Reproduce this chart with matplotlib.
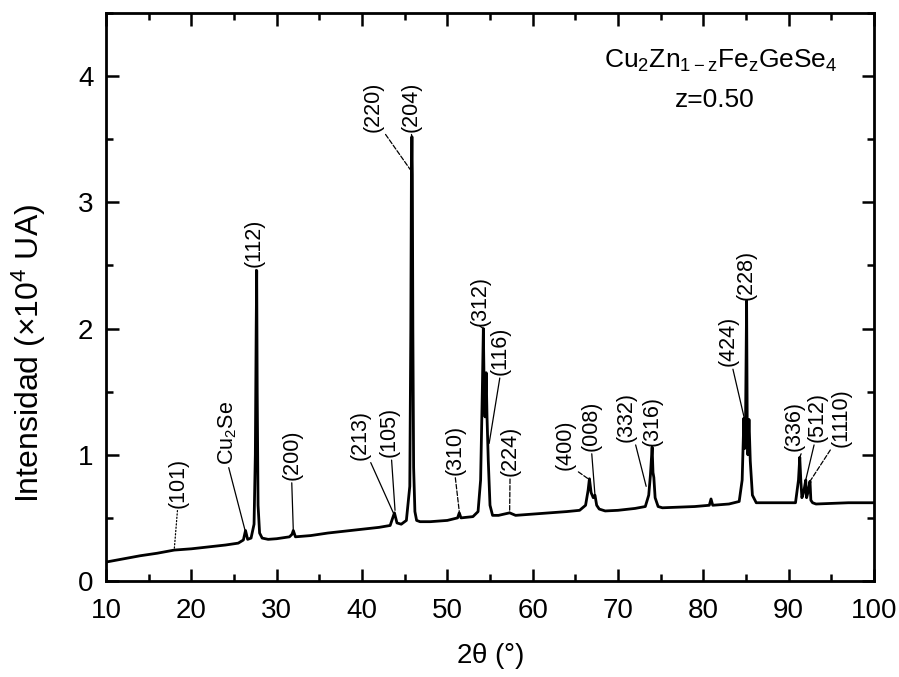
import matplotlib
matplotlib.use('Agg')
import matplotlib.pyplot as plt
from matplotlib.ticker import MultipleLocator

# Difractograma Cu2Zn(1-z)FezGeSe4, z=0.50 (intensidad en unidades de 10^4)
two_theta = [10.0, 12.0, 14.0, 16.0, 18.0, 20.0, 22.0, 24.0, 25.5, 26.1, 26.35, 26.6,
             27.0, 27.35, 27.5, 27.6, 27.66, 27.72, 27.82, 28.0, 28.3, 29.0, 30.0, 31.5,
             31.8, 31.95, 32.2, 34.0, 36.0, 38.0, 40.0, 42.0, 43.3, 43.6, 43.8, 44.1,
             44.6, 45.2, 45.6, 45.72, 45.79, 45.85, 45.9, 45.96, 46.05, 46.2, 46.4, 46.8,
             48.0, 50.0, 51.2, 51.4, 51.6, 53.0, 53.6, 53.9, 54.1, 54.22, 54.32, 54.42,
             54.55, 54.65, 54.8, 55.0, 55.3, 56.0, 57.3, 58.0, 60.0, 62.0, 64.0, 65.5,
             66.2, 66.5, 66.65, 66.85, 67.1, 67.3, 67.5, 67.8, 68.5, 70.0, 72.0, 73.2,
             73.6, 73.8, 74.0, 74.1, 74.2, 74.35, 74.7, 75.2, 77.0, 79.0, 80.7, 80.9,
             81.1, 83.0, 84.2, 84.55, 84.75, 84.85, 84.95, 85.07, 85.14, 85.22, 85.35, 85.5,
             85.75, 86.2, 87.0, 89.0, 90.8, 91.15, 91.3, 91.42, 91.55, 91.75, 92.0, 92.1,
             92.25, 92.5, 92.6, 92.8, 93.2, 95.0, 97.0, 100.0]
intensity = [0.15, 0.175, 0.20, 0.22, 0.245, 0.255, 0.27, 0.285, 0.30, 0.325, 0.40, 0.33,
             0.34, 0.45, 1.0, 2.0, 2.46, 1.5, 0.6, 0.38, 0.34, 0.33, 0.335, 0.35,
             0.37, 0.40, 0.35, 0.36, 0.38, 0.395, 0.41, 0.425, 0.44, 0.50, 0.54, 0.46,
             0.45, 0.48, 0.75, 2.0, 3.22, 3.52, 3.22, 2.0, 0.9, 0.55, 0.48, 0.47,
             0.47, 0.48, 0.50, 0.54, 0.50, 0.51, 0.55, 0.8, 1.5, 2.0, 1.5, 1.3,
             1.65, 1.3, 0.95, 0.6, 0.52, 0.52, 0.54, 0.52, 0.53, 0.54, 0.55, 0.56,
             0.60, 0.72, 0.81, 0.70, 0.66, 0.68, 0.60, 0.57, 0.555, 0.56, 0.575, 0.59,
             0.68, 0.84, 1.06, 0.86, 0.82, 0.66, 0.59, 0.58, 0.585, 0.59, 0.60, 0.65,
             0.60, 0.61, 0.63, 0.80, 1.29, 1.05, 1.29, 2.22, 1.28, 1.0, 1.28, 0.95,
             0.68, 0.62, 0.62, 0.62, 0.62, 0.80, 0.98, 0.80, 0.66, 0.70, 0.80, 0.66,
             0.70, 0.79, 0.64, 0.62, 0.61, 0.615, 0.62, 0.62]

# Indexación de picos: etiqueta, punto del pico, posición de la etiqueta
hkl_labels = ['(101)', 'Cu$_2$Se', '(112)', '(200)', '(213)', '(105)', '(220)', '(204)',
              '(310)', '(312)', '(116)', '(224)', '(400)', '(008)', '(332)', '(316)',
              '(424)', '(228)', '(336)', '(512)', '(1110)']
peak_x = [18.0, 26.3, 27.66, 31.95, 43.67, 43.87, 45.65, 45.85, 51.4, 54.22, 54.9, 57.3,
          66.5, 67.3, 73.3, 74.0, 84.8, 85.07, 91.3, 92.0, 92.5]
peak_y = [0.25, 0.40, 2.46, 0.40, 0.54, 0.56, 3.26, 3.22, 0.55, 2.0, 1.09, 0.54,
          0.81, 0.68, 0.75, 1.06, 1.29, 2.22, 0.98, 0.80, 0.79]

label_x = [18.4, 24.3, 27.35, 31.76, 39.77, 43.2, 41.3, 45.8, 50.9, 53.8, 56.2, 57.35,
           63.8, 66.9, 71.0, 73.95, 82.9, 85.06, 90.6, 93.3, 96.2]
label_y = [0.58, 0.92, 2.49, 0.80, 0.96, 0.98, 3.56, 3.56, 0.84, 2.02, 1.63, 0.83,
           0.88, 1.03, 1.10, 1.07, 1.70, 2.23, 1.03, 1.10, 1.06]
leader_rel = [0.5, 0.5, 0.5, 0.5, 0.95, 0.6, 1.0, 0.5, 0.5, 0.5, 0.5, 0.5,
              1.0, 0.5, 0.9, 0.5, 0.7, 0.5, 0.9, 0.4, 0.05]
leader_ls = [':', '-', '-', '-', '-', '-', '--', '-', '--', '-', '-', '--',
             '--', '-', '-', '-', '-', '-', '-', '-', '--']

plt.rcParams['font.family'] = ['Liberation Sans', 'DejaVu Sans']
plt.rcParams['mathtext.fontset'] = 'custom'
plt.rcParams['mathtext.rm'] = 'Liberation Sans'
plt.rcParams['mathtext.it'] = 'Liberation Sans'
plt.rcParams['mathtext.default'] = 'regular'
narrow = ['Liberation Sans Narrow', 'Liberation Sans']

fig = plt.figure(figsize=(8.99, 6.77), dpi=100)
ax = fig.add_axes([0.1179, 0.1418, 0.8543, 0.839])

ax.plot(two_theta, intensity, color='black', lw=2)

for i in range(len(hkl_labels)):
    ax.annotate(hkl_labels[i], xy=(peak_x[i], peak_y[i]), xytext=(label_x[i], label_y[i]),
                rotation=90, ha='center', va='bottom', fontsize=15.5,
                arrowprops=dict(arrowstyle='-', color='black', lw=0.9, ls=leader_ls[i],
                                shrinkA=0, shrinkB=0, relpos=(leader_rel[i], 0.0)))

ax.text(0.801, 0.903, 'Cu$_2$Zn$_{1-z}$Fe$_z$GeSe$_4$', transform=ax.transAxes,
        ha='center', va='baseline', fontsize=19)
ax.text(0.793, 0.835, 'z=0.50', transform=ax.transAxes,
        ha='center', va='baseline', fontsize=19)

ax.set_xlim(10, 100)
ax.set_ylim(0, 4.5)
ax.xaxis.set_major_locator(MultipleLocator(10))
ax.xaxis.set_minor_locator(MultipleLocator(5))
ax.yaxis.set_major_locator(MultipleLocator(1))
ax.yaxis.set_minor_locator(MultipleLocator(0.5))
ax.tick_params(which='both', direction='in', top=True, right=True, width=1.8)
ax.tick_params(which='major', length=9)
ax.tick_params(which='minor', length=5)
ax.tick_params(axis='x', pad=12)
ax.tick_params(axis='y', pad=9)
for lbl in ax.get_xticklabels() + ax.get_yticklabels():
    lbl.set_family(narrow)
    lbl.set_fontsize(20)
for sp in ax.spines.values():
    sp.set_linewidth(2)

ax.set_xlabel('2$\\theta$ (°)', fontsize=20, family=narrow, math_fontfamily='stix')
ax.xaxis.set_label_coords(0.5, -0.105)
ax.set_ylabel('Intensidad ($\\times$10$^4$ UA)', fontsize=23)
ax.yaxis.set_label_coords(-0.076, 0.40)

fig.savefig('out.png', dpi=100)
